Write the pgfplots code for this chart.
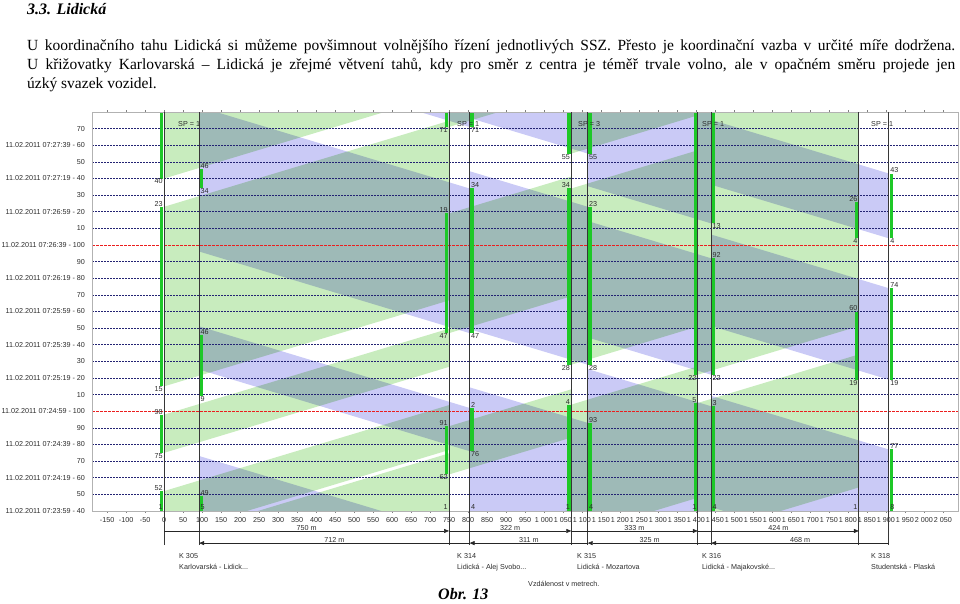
\documentclass[border=0pt]{standalone}
\usepackage{fontspec}
\setmainfont{Liberation Serif}
\newfontfamily\chartfont{Liberation Sans}
\usepackage{pgfplots}
\pgfplotsset{compat=1.18}
\usetikzlibrary{arrows.meta}

\definecolor{bgreen}{RGB}{200,236,190}
\definecolor{bblue}{RGB}{202,202,246}
\definecolor{barg}{RGB}{30,200,40}
\definecolor{gridblue}{RGB}{35,35,115}
\definecolor{vline}{RGB}{55,55,55}
\definecolor{lbl}{RGB}{45,45,45}
\definecolor{redline}{RGB}{235,30,30}

\newcommand{\cf}{\chartfont\fontsize{7.2}{8}\selectfont}
\newcommand{\lA}[4]{\node[font=\cf, text=lbl, anchor=east, inner sep=0.5pt, xshift=-0.8pt, yshift=#4] at (axis cs:#1,#2) {#3};}
\newcommand{\lB}[4]{\node[font=\cf, text=lbl, anchor=west, inner sep=0.5pt, xshift=0.8pt, yshift=#4] at (axis cs:#1,#2) {#3};}
\newcommand{\gb}[1]{\addplot[draw=none, fill=bgreen, blend mode=multiply] coordinates {#1};}
\newcommand{\bb}[1]{\addplot[draw=none, fill=bblue, blend mode=multiply] coordinates {#1};}
\newcommand{\gbar}[1]{\addplot[draw=barg, line width=3.5pt, line cap=butt] coordinates {#1};}
\newcommand{\vl}[1]{\addplot[draw=vline, line width=0.8pt] coordinates {(#1,-20.5) (#1,240)};}

\begin{document}
\begin{tikzpicture}
\path[use as bounding box] (0pt,0pt) rectangle (960pt,-603pt);

\node[anchor=base west, inner sep=0] at (27pt,-14pt) {\fontsize{16}{19}\selectfont\bfseries\itshape 3.3. Lidická};
\node[anchor=base west, inner sep=0] at (27pt,-50pt) {\fontsize{15.5}{19}\selectfont\makebox[928pt][s]{U koordinačního tahu Lidická si můžeme povšimnout volnějšího řízení jednotlivých SSZ. Přesto je koordinační vazba v~určité míře dodržena.}};
\node[anchor=base west, inner sep=0] at (27pt,-69.5pt) {\fontsize{15.5}{19}\selectfont\makebox[928pt][s]{U křižovatky Karlovarská – Lidická je zřejmé větvení tahů, kdy pro směr z centra je téměř trvale volno, ale v opačném směru projede jen}};
\node[anchor=base west, inner sep=0] at (27pt,-88pt) {\fontsize{15.5}{19}\selectfont úzký svazek vozidel.};

\begin{axis}[
  at={(92pt,-511pt)}, anchor=south west,
  scale only axis, width=866pt, height=399pt,
  xmin=-190, xmax=2090, ymin=0, ymax=240,
  axis on top,
  axis line style={draw=black!30},
  xtick={-150,-100,...,2050},
  ytick={0,10,...,230},
  yticklabels={11.02.2011 07:23:59 - 40,50,11.02.2011 07:24:19 - 60,70,11.02.2011 07:24:39 - 80,90,11.02.2011 07:24:59 - 100,10,11.02.2011 07:25:19 - 20,30,11.02.2011 07:25:39 - 40,50,11.02.2011 07:25:59 - 60,70,11.02.2011 07:26:19 - 80,90,11.02.2011 07:26:39 - 100,10,11.02.2011 07:26:59 - 20,30,11.02.2011 07:27:19 - 40,50,11.02.2011 07:27:39 - 60,70},
  tick label style={font=\cf, text=lbl},
  /pgf/number format/assume math mode=true,
  /pgf/number format/1000 sep={\ },
  ytick style={draw=none},
  xtick style={draw=black!50, line width=0.4pt},
  major tick length=2pt,
  tick align=outside,
  yticklabel style={xshift=-1.5pt},
  xticklabel style={yshift=-0.5pt},
]
% ---- green bands (direction K305 -> K318)
\gb{(0,-60)(750,-8.3)(750,34.7)(0,-17)}
\gb{(0,-15)(750,36.7)(750,63.7)(0,12)}
\gb{(0,35)(750,86.7)(750,109.7)(0,58)}
\gb{(0,75)(750,126.7)(750,234.7)(0,183)}
\gb{(0,200)(750,251.7)(750,311.7)(0,260)}
\gb{(750,-60)(1072,-37.8)(1072,1.2)(750,-21)}
\gb{(750,22)(1072,44.2)(1072,73.2)(750,51)}
\gb{(750,107)(1072,129.2)(1072,201.2)(750,179)}
\gb{(750,231)(1072,253.2)(1072,282.2)(750,260)}
\gb{(1072,-15)(1405,8)(1405,87)(1072,64)}
\gb{(1072,88)(1405,111)(1405,217)(1072,194)}
\gb{(1072,215)(1405,238)(1405,283)(1072,260)}
\gb{(1405,-15)(1829,14.2)(1829,94.2)(1405,65)}
\gb{(1405,82)(1829,111.2)(1829,289.2)(1405,260)}
% ---- blue bands (direction K318 -> K305)
\bb{(1908,-30)(1440,2.3)(1440,69.3)(1908,37)}
\bb{(1908,79)(1440,111.3)(1440,166.3)(1908,134)}
\bb{(1908,164)(1440,196.3)(1440,235.3)(1908,203)}
\bb{(1440,-25)(1115,-2.6)(1115,85.4)(1440,63)}
\bb{(1440,82)(1115,104.4)(1115,174.4)(1440,152)}
\bb{(1440,173)(1115,195.4)(1115,282.4)(1440,260)}
\bb{(1115,-25)(804,-3.6)(804,74.4)(1115,53)}
\bb{(1115,88)(804,109.4)(804,204.4)(1115,183)}
\bb{(1115,215)(804,236.4)(804,281.4)(1115,260)}
\bb{(804,-65)(92,-15.9)(92,33.1)(804,-16)}
\bb{(804,36)(92,85.1)(92,111.1)(804,62)}
\bb{(804,107)(92,156.1)(92,243.1)(804,194)}
\bb{(804,231)(92,280.1)(92,309.1)(804,260)}
% ---- time grid: dashed every 10 s, red at the cycle boundaries
\pgfplotsinvokeforeach{0,10,20,30,40,50,70,80,90,100,110,120,130,140,150,170,180,190,200,210,220,230}{
  \addplot[draw=gridblue, dash pattern=on 2pt off 1pt, line width=0.55pt] coordinates {(-190,#1) (2090,#1)};
}
\addplot[draw=redline, dash pattern=on 3pt off 1pt, line width=0.55pt] coordinates {(-190,60) (2090,60)};
\addplot[draw=redline, dash pattern=on 3pt off 1pt, line width=0.55pt] coordinates {(-190,160) (2090,160)};
% ---- green times at stop lines
\gbar{(-6.5,0)(-6.5,12)}\gbar{(-6.5,35)(-6.5,58)}\gbar{(-6.5,75)(-6.5,183)}\gbar{(-6.5,200)(-6.5,240)}
\gbar{(98.5,0)(98.5,9)}\gbar{(98.5,69)(98.5,106)}\gbar{(98.5,194)(98.5,206)}
\gbar{(743.5,22)(743.5,51)}\gbar{(743.5,107)(743.5,179)}\gbar{(743.5,231)(743.5,240)}
\gbar{(810.5,36)(810.5,62)}\gbar{(810.5,107)(810.5,194)}\gbar{(810.5,231)(810.5,240)}
\gbar{(1065.5,0)(1065.5,64)}\gbar{(1065.5,88)(1065.5,194)}\gbar{(1065.5,215)(1065.5,240)}
\gbar{(1121.5,0)(1121.5,53)}\gbar{(1121.5,88)(1121.5,183)}\gbar{(1121.5,215)(1121.5,240)}
\gbar{(1398.5,0)(1398.5,65)}\gbar{(1398.5,82)(1398.5,240)}
\gbar{(1446.5,0)(1446.5,63)}\gbar{(1446.5,82)(1446.5,152)}\gbar{(1446.5,173)(1446.5,240)}
\gbar{(1822.5,79)(1822.5,120)}\gbar{(1822.5,164)(1822.5,186)}
\gbar{(1914.5,0)(1914.5,37)}\gbar{(1914.5,79)(1914.5,134)}\gbar{(1914.5,164)(1914.5,203)}
\end{axis}

\begin{axis}[
  at={(92pt,-511pt)}, anchor=south west,
  scale only axis, width=866pt, height=399pt,
  xmin=-190, xmax=2090, ymin=0, ymax=240,
  hide axis, clip=false,
]
\vl{0}\vl{92}\vl{750}\vl{804}\vl{1072}\vl{1115}\vl{1405}\vl{1440}\vl{1829}\vl{1908}
\draw[draw=black!85, line width=0.6pt, -{Triangle[length=5pt,width=4pt]}] (axis cs:0,-12) -- (axis cs:750,-12);
\draw[draw=black!85, line width=0.6pt, -{Triangle[length=5pt,width=4pt]}] (axis cs:750,-12) -- (axis cs:1072,-12);
\draw[draw=black!85, line width=0.6pt, -{Triangle[length=5pt,width=4pt]}] (axis cs:1072,-12) -- (axis cs:1405,-12);
\draw[draw=black!85, line width=0.6pt, -{Triangle[length=5pt,width=4pt]}] (axis cs:1405,-12) -- (axis cs:1829,-12);
\draw[draw=black!85, line width=0.6pt, {Triangle[length=5pt,width=4pt]}-] (axis cs:92,-19.3) -- (axis cs:804,-19.3);
\draw[draw=black!85, line width=0.6pt, {Triangle[length=5pt,width=4pt]}-] (axis cs:804,-19.3) -- (axis cs:1115,-19.3);
\draw[draw=black!85, line width=0.6pt, {Triangle[length=5pt,width=4pt]}-] (axis cs:1115,-19.3) -- (axis cs:1440,-19.3);
\draw[draw=black!85, line width=0.6pt, {Triangle[length=5pt,width=4pt]}-] (axis cs:1440,-19.3) -- (axis cs:1908,-19.3);
\node[font=\cf, text=lbl, anchor=south, inner sep=0.6pt] at (axis cs:375,-12) {750 m};
\node[font=\cf, text=lbl, anchor=south, inner sep=0.6pt] at (axis cs:911,-12) {322 m};
\node[font=\cf, text=lbl, anchor=south, inner sep=0.6pt] at (axis cs:1238,-12) {333 m};
\node[font=\cf, text=lbl, anchor=south, inner sep=0.6pt] at (axis cs:1617,-12) {424 m};
\node[font=\cf, text=lbl, anchor=south, inner sep=0.6pt] at (axis cs:448,-19.3) {712 m};
\node[font=\cf, text=lbl, anchor=south, inner sep=0.6pt] at (axis cs:960,-19.3) {311 m};
\node[font=\cf, text=lbl, anchor=south, inner sep=0.6pt] at (axis cs:1278,-19.3) {325 m};
\node[font=\cf, text=lbl, anchor=south, inner sep=0.6pt] at (axis cs:1674,-19.3) {468 m};
\lA{0}{200}{40}{-3pt}\lA{0}{183}{23}{3pt}\lA{0}{75}{15}{-3pt}\lA{0}{58}{98}{3pt}\lA{0}{35}{75}{-3pt}\lA{0}{12}{52}{3pt}
\lB{92}{206}{46}{3pt}\lB{92}{194}{34}{-3pt}\lB{92}{106}{46}{3pt}\lB{92}{69}{9}{-3pt}\lB{92}{9}{49}{3pt}
\lA{750}{231}{71}{-3pt}\lA{750}{179}{19}{3pt}\lA{750}{107}{47}{-3pt}\lA{750}{51}{91}{3pt}\lA{750}{22}{62}{-3pt}
\lB{804}{231}{71}{-3pt}\lB{804}{194}{34}{3pt}\lB{804}{107}{47}{-3pt}\lB{804}{62}{2}{3pt}\lB{804}{36}{76}{-3pt}
\lA{1072}{215}{55}{-3pt}\lA{1072}{194}{34}{3pt}\lA{1072}{88}{28}{-3pt}\lA{1072}{64}{4}{3pt}
\lB{1115}{215}{55}{-3pt}\lB{1115}{183}{23}{3pt}\lB{1115}{88}{28}{-3pt}\lB{1115}{53}{93}{3pt}
\lA{1405}{82}{22}{-3pt}\lA{1405}{65}{5}{3pt}
\lB{1440}{173}{13}{-3pt}\lB{1440}{152}{92}{3pt}\lB{1440}{82}{22}{-3pt}\lB{1440}{63}{3}{3pt}
\lA{1829}{186}{26}{3pt}\lA{1829}{164}{4}{-3pt}\lA{1829}{120}{60}{3pt}\lA{1829}{79}{19}{-3pt}
\lB{1908}{203}{43}{3pt}\lB{1908}{164}{4}{-3pt}\lB{1908}{134}{74}{3pt}\lB{1908}{79}{19}{-3pt}\lB{1908}{37}{77}{3pt}
\lA{0}{2.5}{1}{0pt}\lB{92}{2.5}{5}{0pt}\lA{750}{2.5}{1}{0pt}\lB{804}{2.5}{4}{0pt}
\lA{1072}{2.5}{1}{0pt}\lB{1115}{2.5}{4}{0pt}\lA{1405}{2.5}{1}{0pt}\lB{1440}{2.5}{4}{0pt}
\lA{1829}{2.5}{1}{0pt}\lB{1908}{2.5}{8}{0pt}
\end{axis}

\node[font=\cf, text=lbl, anchor=base west, inner sep=0] at (178pt,-126.5pt) {SP = 1};
\node[font=\cf, text=lbl, anchor=base west, inner sep=0] at (457pt,-126.5pt) {SP = 1};
\node[font=\cf, text=lbl, anchor=base west, inner sep=0] at (578pt,-126.5pt) {SP = 3};
\node[font=\cf, text=lbl, anchor=base west, inner sep=0] at (702pt,-126.5pt) {SP = 1};
\node[font=\cf, text=lbl, anchor=base west, inner sep=0] at (871pt,-126.5pt) {SP = 1};

\node[font=\cf, text=lbl, anchor=base west, inner sep=0] at (179pt,-558pt) {K 305};
\node[font=\cf, text=lbl, anchor=base west, inner sep=0] at (179pt,-569pt) {Karlovarská - Lidick...};
\node[font=\cf, text=lbl, anchor=base west, inner sep=0] at (457pt,-558pt) {K 314};
\node[font=\cf, text=lbl, anchor=base west, inner sep=0] at (457pt,-569pt) {Lidická - Alej Svobo...};
\node[font=\cf, text=lbl, anchor=base west, inner sep=0] at (577pt,-558pt) {K 315};
\node[font=\cf, text=lbl, anchor=base west, inner sep=0] at (577pt,-569pt) {Lidická - Mozartova};
\node[font=\cf, text=lbl, anchor=base west, inner sep=0] at (702pt,-558pt) {K 316};
\node[font=\cf, text=lbl, anchor=base west, inner sep=0] at (702pt,-569pt) {Lidická - Majakovské...};
\node[font=\cf, text=lbl, anchor=base west, inner sep=0] at (871pt,-558pt) {K 318};
\node[font=\cf, text=lbl, anchor=base west, inner sep=0] at (871pt,-569pt) {Studentská - Plaská};
\node[font=\cf, text=lbl, anchor=base west, inner sep=0] at (528pt,-586pt) {Vzdálenost v metrech.};

\node[anchor=base west, inner sep=0] at (438pt,-599pt) {\fontsize{16}{19}\selectfont\bfseries\itshape Obr. 13};
\end{tikzpicture}
\end{document}
